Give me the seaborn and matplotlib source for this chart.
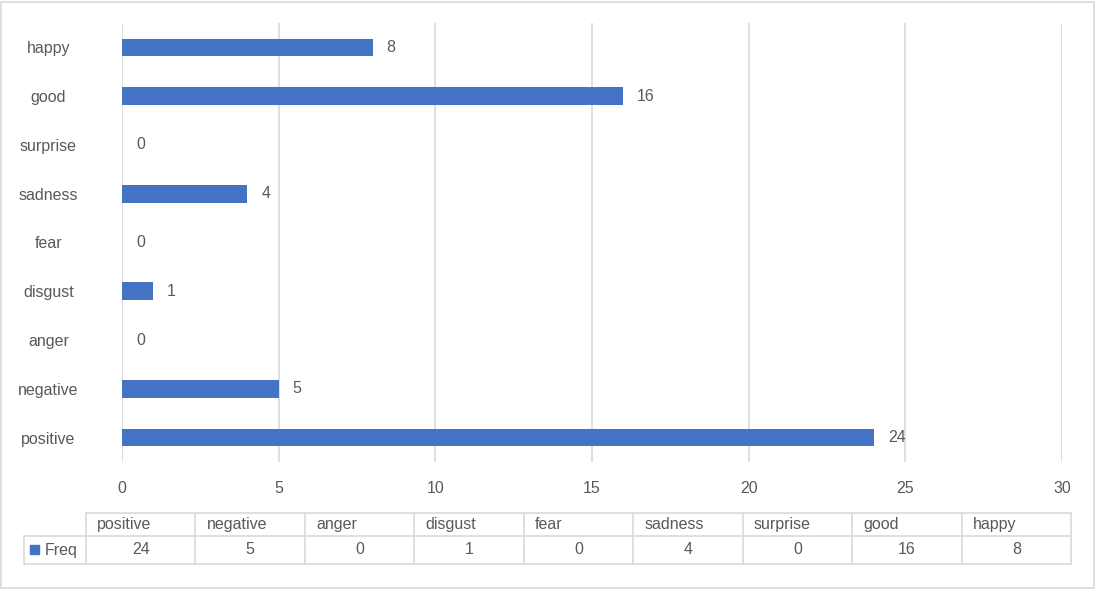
import matplotlib
matplotlib.use('Agg')
import matplotlib.pyplot as plt
import seaborn as sns
import pandas as pd
from matplotlib.patches import Rectangle
from matplotlib.lines import Line2D

# data, order as in the table (bottom to top in the chart)
emotions = ['positive', 'negative', 'anger', 'disgust', 'fear', 'sadness', 'surprise', 'good', 'happy']
freq = [24, 5, 0, 1, 0, 4, 0, 16, 8]
xticks = [0, 5, 10, 15, 20, 25, 30]

df = pd.DataFrame({'emotion': emotions, 'Freq': freq})

sns.set_style('white')
plt.rcParams['font.family'] = ['Liberation Sans', 'DejaVu Sans']
txt = '#595959'
grid = '#D9D9D9'
blue = '#4472C4'

W, H = 1096, 589
fig = plt.figure(figsize=(W / 100, H / 100), dpi=100)
ax = fig.add_axes([122 / W, 1 - 462 / H, 940 / W, 439 / H])

sns.barplot(data=df, x='Freq', y='emotion', order=emotions[::-1], orient='h',
            color=blue, saturation=1, width=0.36, linewidth=0, ax=ax)
for c in ax.containers:
    lbls = ax.bar_label(c, padding=10, color=txt, fontsize=11.5)
    for l in lbls:
        l.set_y(l.get_position()[1])
        l.set_va('center')

ax.set_xlim(0, 30)
ax.set_ylim(8.5, -0.5)
ax.set_xticks(xticks)
ax.grid(axis='x', color=grid, lw=1.2)
ax.set_axisbelow(True)
for s in ax.spines.values():
    s.set_visible(False)
ax.set_xlabel('')
ax.set_ylabel('')
ax.tick_params(axis='x', length=0, pad=14, labelsize=11.5, labelcolor=txt)
ax.tick_params(axis='y', length=0, pad=53, labelsize=11.5, labelcolor=txt)
for t in ax.get_yticklabels():
    t.set_ha('center')

# data table under the chart
x0, x1, lab0 = 86, 1071, 24
cw = (x1 - x0) / len(emotions)
ya, yb, yc = 513, 536, 564

def fx(px):
    return px / W

def fy(py):
    return 1 - py / H

lines = [((x0, x1), (ya, ya)), ((lab0, x1), (yb, yb)), ((lab0, x1), (yc, yc)),
         ((lab0, lab0), (yb, yc))]
for i in range(len(emotions) + 1):
    lines.append(((x0 + i * cw, x0 + i * cw), (ya, yc)))
for xs, ys in lines:
    fig.add_artist(Line2D([fx(v) for v in xs], [fy(v) for v in ys], color=grid, lw=1.2))

for i, (e, v) in enumerate(zip(emotions, freq)):
    fig.text(fx(x0 + i * cw + 11), fy((ya + yb) / 2), e, ha='left', va='center',
             color=txt, fontsize=11.5)
    fig.text(fx(x0 + (i + 0.5) * cw), fy((yb + yc) / 2), str(v), ha='center', va='center',
             color=txt, fontsize=11.5)

fig.add_artist(Rectangle((fx(30), fy(554)), 9 / W, 9 / H, color=blue, transform=fig.transFigure))
fig.text(fx(45), fy((yb + yc) / 2), 'Freq', ha='left', va='center', color=txt, fontsize=11.5)

# chart border
fig.add_artist(Rectangle((1 / W, 1 / H), 1 - 3 / W, 1 - 3 / H, fill=False, ec=grid, lw=1.2,
                         transform=fig.transFigure))

fig.savefig('out.png', dpi=100)
